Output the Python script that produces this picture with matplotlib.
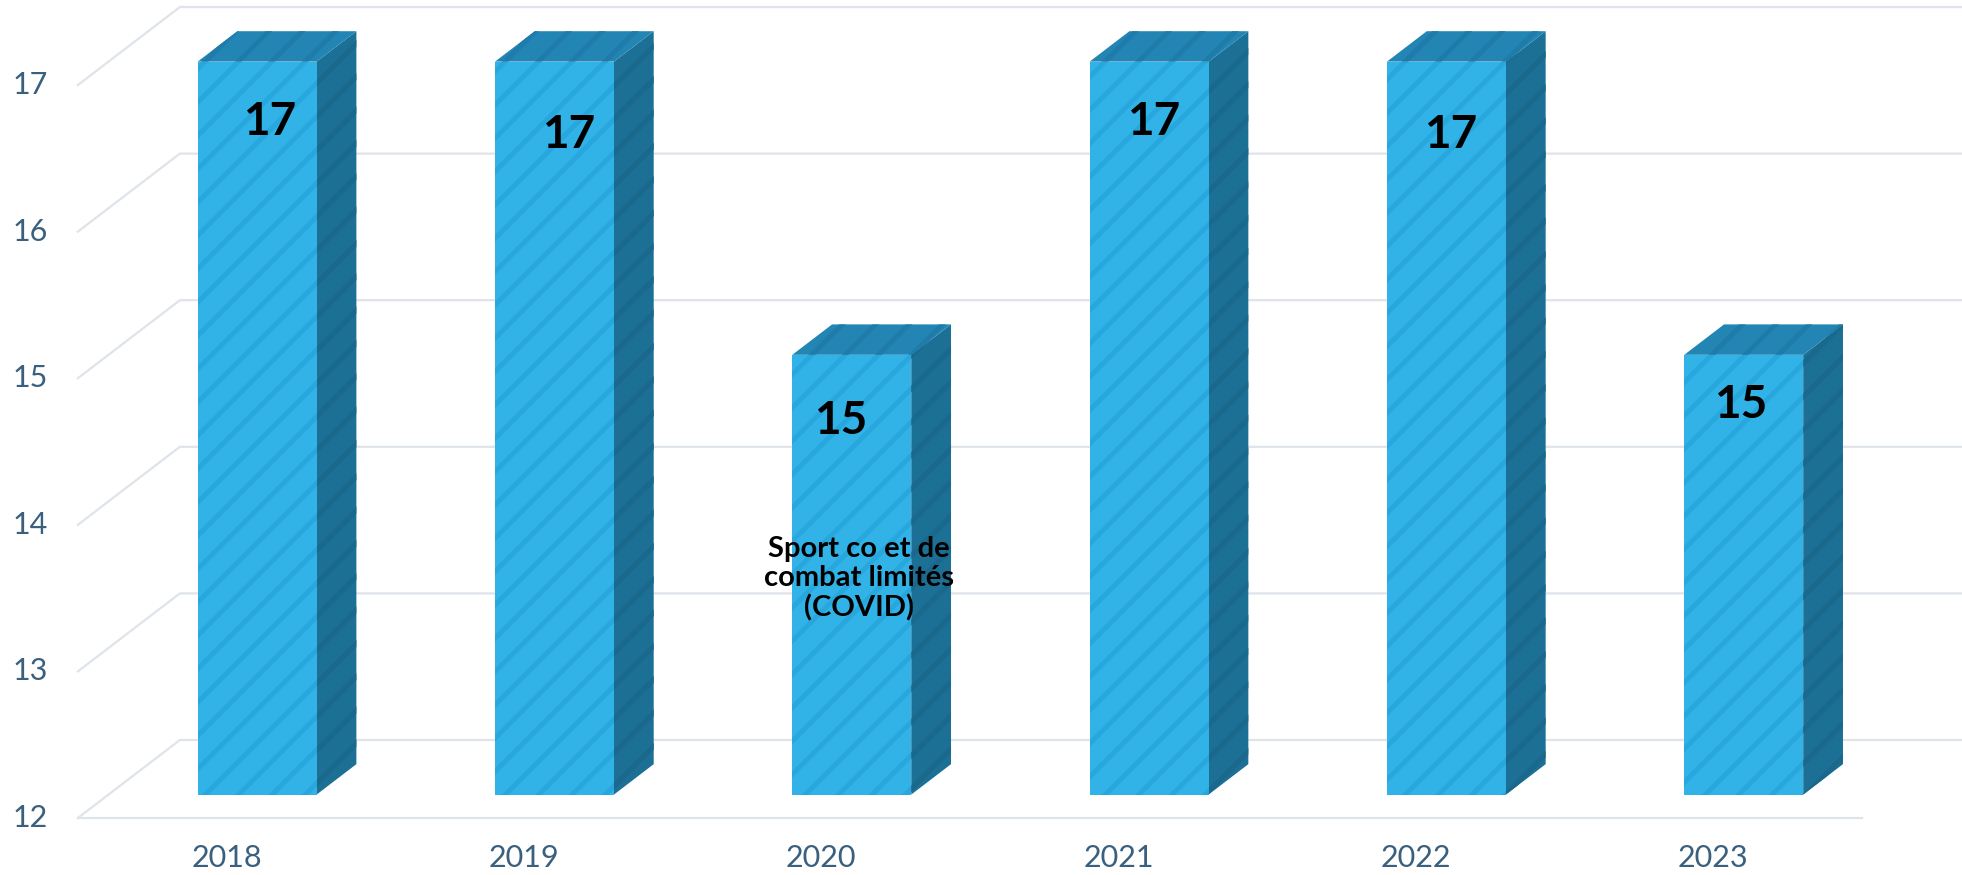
import matplotlib.pyplot as plt
from matplotlib.patches import Polygon

# données
years = ['2018', '2019', '2020', '2021', '2022', '2023']
values = [17, 17, 15, 17, 17, 15]
y_ticks = [12, 13, 14, 15, 16, 17]
note = 'Sport co et de\ncombat limités\n(COVID)'

# petits décalages des étiquettes de valeur (placées à la main dans l'original)
label_nudge = [(0.146, -0.25), (0.152, -0.34), (0.066, -0.29),
               (0.119, -0.25), (0.118, -0.34), (0.094, -0.18)]

plt.rcParams['font.family'] = ['Lato', 'DejaVu Sans']
plt.rcParams['hatch.linewidth'] = 3.5

# profondeur 3D (oblique) en unités de données
DX, DY = 0.343, 0.532
T0, T1 = 0.30, 0.69
BASE = 12
HALF_W = 0.2


def proj(x, v, t):
    return (x + t * DX, v + t * DY)


fig = plt.figure(figsize=(19.62, 8.75), dpi=100)
ax = fig.add_axes([0, 0, 1, 1])
ax.set_xlim(-0.762, 5.837)
ax.set_ylim(11.611, 17.58)
ax.axis('off')

grid_c = '#dfe4ea'
n = len(years)
# sol / murs
for v in y_ticks:
    p0 = proj(-0.5, v, 0)
    p1 = proj(-0.5, v, 1)
    p2 = proj(n - 0.5, v, 1)
    ax.plot([p0[0], p1[0], p2[0]], [p0[1], p1[1], p2[1]], color=grid_c, lw=1.6, zorder=1,
            solid_joinstyle='miter')
ax.plot([-0.5, n - 0.5], [BASE, BASE], color=grid_c, lw=1.6, zorder=1)

# graduations
for v in y_ticks:
    ax.text(-0.6, v, str(v), ha='right', va='center', fontsize=22, color='#3b607e')
for i, y in enumerate(years):
    ax.text(i, 11.727, y, ha='center', va='center', fontsize=22, color='#3b607e')

# barres 3D
for i, v in enumerate(values):
    x0, x1 = i - HALF_W, i + HALF_W
    front = [proj(x0, BASE, T0), proj(x1, BASE, T0), proj(x1, v, T0), proj(x0, v, T0)]
    top = [proj(x0, v, T0), proj(x1, v, T0), proj(x1, v, T1), proj(x0, v, T1)]
    side = [proj(x1, BASE, T0), proj(x1, BASE, T1), proj(x1, v, T1), proj(x1, v, T0)]
    ax.add_patch(Polygon(side, closed=True, facecolor='#1c6f95', edgecolor='#1a688c',
                         hatch='/', lw=0, zorder=3))
    ax.add_patch(Polygon(top, closed=True, facecolor='#2285b4', edgecolor='#1f7caa',
                         hatch='/', lw=0, zorder=3))
    ax.add_patch(Polygon(front, closed=True, facecolor='#31b3e8', edgecolor='#27a7dd',
                         hatch='/', lw=0, zorder=4))
    dx, dy = label_nudge[i]
    ax.text(i + dx, v + dy, str(v), ha='center', va='center', fontsize=33,
            fontweight='bold', color='black', zorder=5)

ax.text(2.127, 13.63, note, ha='center', va='center', fontsize=21, fontweight='bold',
        color='black', linespacing=1.15, zorder=5, multialignment='center')

fig.savefig('out.png', dpi=100)
